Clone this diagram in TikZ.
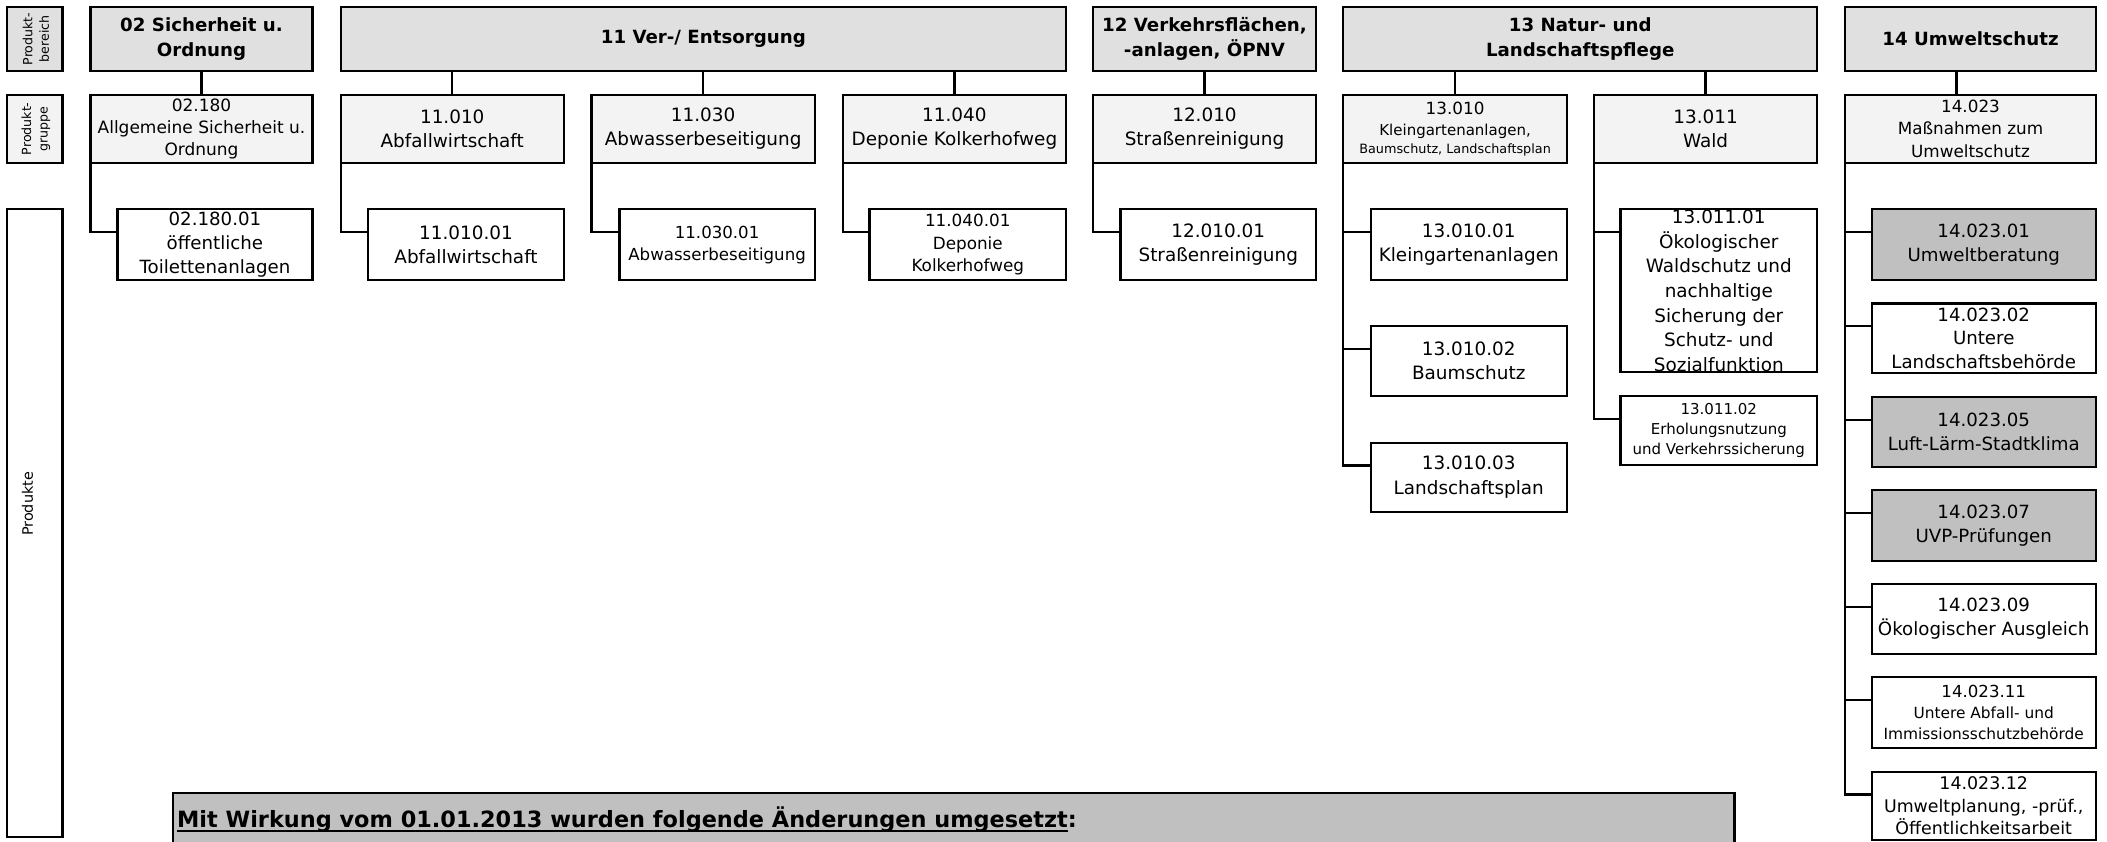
\documentclass[tikz,border=0pt]{standalone}
\usepackage{fontspec}
\setmainfont{DejaVu Sans}
\usetikzlibrary{calc}
\definecolor{hdrgray}{RGB}{224,224,224}
\definecolor{grpgray}{RGB}{243,243,243}
\definecolor{prodgray}{RGB}{192,192,192}
\newcommand{\fs}[2]{\fontsize{#1}{#2}\selectfont}
\newsavebox{\ulbox}
\newcommand{\myul}[1]{\sbox\ulbox{#1}\rlap{\rule[-2.1pt]{\wd\ulbox}{1pt}}\usebox\ulbox}
% style, name, x1, y1, x2, y2, text
\newcommand{\bx}[7]{\node[#1, minimum width={(#5-#3)*0.6719pt}, minimum height={(#6-#4)*0.6719pt}] (#2) at ({(#3+#5)/2},{(#4+#6)/2}) {#7};}
\newcommand{\lnk}[2]{\draw[conn] (#1.south west) |- ($(#2.north west)+(0,17)$);}
\begin{document}
\begin{tikzpicture}[x=0.6719pt,y=-0.6719pt,
  boxbase/.style={draw, line width=1.1pt, inner sep=0pt, outer sep=0pt, align=center},
  hdr/.style={boxbase, fill=hdrgray, font=\bfseries\fs{9.1}{12.5}},
  grp/.style={boxbase, fill=grpgray, font=\fs{9.2}{12.2}},
  prd/.style={boxbase, fill=white, font=\fs{9.2}{12.2}},
  prdg/.style={prd, fill=prodgray},
  lbl/.style={boxbase},
  lbltext/.style={rotate=90, inner sep=0pt, align=center},
  conn/.style={line width=1.1pt}]
\useasboundingbox (0,0) rectangle (1568,626);

% left labels
\bx{lbl, fill=hdrgray}{lb1}{5}{5.4}{46.5}{52.6}{}
\node[lbltext, font=\fs{6.3}{8.2}] (lb1t) at ($(lb1.center)+(1,0)$) {Produkt-\\bereich};
\bx{lbl, fill=grpgray}{lb2}{5}{70.5}{46.5}{121.3}{}
\node[lbltext, font=\fs{6.3}{8.2}] (lb2t) at ($(lb2.center)+(1,0)$) {Produkt-\\gruppe};
\bx{lbl, fill=white}{lb3}{5}{155.8}{46.5}{622.6}{}
\node[lbltext, font=\fs{7.2}{8}] (lb3t) at (20.5,375) {Produkte};

% headers
\bx{hdr}{h02}{67.4}{5.4}{232.5}{52.6}{02 Sicherheit u.\\Ordnung}
\bx{hdr}{h11}{253.5}{5.4}{793.3}{52.6}{11 Ver-/ Entsorgung}
\bx{hdr}{h12}{813.3}{5.4}{979.4}{52.6}{12 Verkehrsflächen,\\-anlagen, ÖPNV}
\bx{hdr}{h13}{999.7}{5.4}{1352.2}{52.6}{13 Natur- und\\Landschaftspflege}
\bx{hdr}{h14}{1373.3}{5.4}{1559.5}{52.6}{14 Umweltschutz}

% groups
\bx{grp, font=\fs{8.5}{11.2}}{g02}{67.4}{70.5}{232.5}{121.3}{02.180\\Allgemeine Sicherheit u.\\Ordnung}
\bx{grp}{g11a}{253.5}{70.5}{419.6}{121.3}{11.010\\Abfallwirtschaft}
\bx{grp}{g11b}{440.2}{70.5}{606.3}{121.3}{11.030\\Abwasserbeseitigung}
\bx{grp}{g11c}{627.2}{70.5}{793.3}{121.3}{11.040\\Deponie Kolkerhofweg}
\bx{grp}{g12}{813.3}{70.5}{979.4}{121.3}{12.010\\Straßenreinigung}
\bx{grp, font=\fs{7.5}{10.8}}{g13a}{999.7}{70.5}{1166}{121.3}{{\fs{8.4}{10.8}13.010}\\Kleingartenanlagen,\\[-2.1pt]{\fs{6.4}{8.7}Baumschutz, Landschaftsplan}}
\bx{grp}{g13b}{1186.3}{70.5}{1352.2}{121.3}{13.011\\Wald}
\bx{grp, font=\fs{8.4}{11.4}}{g14}{1373.3}{70.5}{1559.5}{121.3}{14.023\\Maßnahmen zum\\Umweltschutz}

% products
\bx{prd, font=\fs{9.1}{12}}{p02}{87.4}{155.8}{232.5}{208.4}{02.180.01\\öffentliche\\Toilettenanlagen}
\bx{prd}{p11a}{274}{155.8}{419.6}{208.4}{11.010.01\\Abfallwirtschaft}
\bx{prd, font=\fs{8.3}{11}}{p11b}{461}{155.8}{606.3}{208.4}{11.030.01\\Abwasserbeseitigung}
\bx{prd, font=\fs{8.4}{11.2}}{p11c}{647.1}{155.8}{793.3}{208.4}{11.040.01\\Deponie\\Kolkerhofweg}
\bx{prd}{p12}{833.8}{155.8}{979.4}{208.4}{12.010.01\\Straßenreinigung}
\bx{prd}{p13a1}{1020}{155.8}{1166}{208.4}{13.010.01\\Kleingartenanlagen}
\bx{prd}{p13a2}{1020}{242.6}{1166}{294.4}{13.010.02\\Baumschutz}
\bx{prd}{p13a3}{1020}{329.4}{1166}{380.8}{13.010.03\\Landschaftsplan}
\bx{prd, font=\fs{9.2}{12.3}}{p13b1}{1206}{155.8}{1352.2}{277}{13.011.01\\Ökologischer\\Waldschutz und\\nachhaltige\\Sicherung der\\Schutz- und\\Sozialfunktion}
\draw[line width=1.1pt] (p13b1.north west) rectangle (p13b1.south east);
\bx{prd, font=\fs{7.5}{10}}{p13b2}{1206}{294.7}{1352.2}{346}{13.011.02\\Erholungsnutzung\\und Verkehrssicherung}
\bx{prdg, font=\fs{9.1}{12}}{p14a}{1393}{155.8}{1559.5}{208.4}{14.023.01\\Umweltberatung}
\bx{prd, font=\fs{9.1}{11.7}}{p14b}{1393}{225.8}{1559.5}{277.6}{14.023.02\\Untere\\Landschaftsbehörde}
\bx{prdg, font=\fs{9.1}{12}}{p14c}{1393}{295.5}{1559.5}{347.4}{14.023.05\\Luft-Lärm-Stadtklima}
\bx{prdg, font=\fs{9.1}{12}}{p14d}{1393}{364.6}{1559.5}{417.5}{14.023.07\\UVP-Prüfungen}
\bx{prd, font=\fs{9.1}{12}}{p14e}{1393}{434.6}{1559.5}{486.7}{14.023.09\\Ökologischer Ausgleich}
\bx{prd, font=\fs{7.7}{10.5}}{p14f}{1393}{503.8}{1559.5}{556.5}{{\fs{8.3}{10.5}14.023.11}\\Untere Abfall- und\\Immissionsschutzbehörde}
\bx{prd, font=\fs{8.7}{11.3}}{p14g}{1393}{574.3}{1559.5}{625}{14.023.12\\Umweltplanung, -prüf.,\\Öffentlichkeitsarbeit}

% header -> group connectors
\draw[conn] (h02.south) -- (g02.north);
\draw[conn] (g11a.north) -- (g11a.north |- h11.south);
\draw[conn] (g11b.north) -- (g11b.north |- h11.south);
\draw[conn] (g11c.north) -- (g11c.north |- h11.south);
\draw[conn] (h12.south) -- (g12.north);
\draw[conn] (g13a.north) -- (g13a.north |- h13.south);
\draw[conn] (g13b.north) -- (g13b.north |- h13.south);
\coordinate (c14) at ($(g14.north west)+(82.7,0)$);
\draw[conn] (c14) -- (c14 |- h14.south);

% group -> product connectors
\lnk{g02}{p02}
\lnk{g11a}{p11a}
\lnk{g11b}{p11b}
\lnk{g11c}{p11c}
\lnk{g12}{p12}
\lnk{g13a}{p13a1}
\lnk{g13a}{p13a2}
\lnk{g13a}{p13a3}
\lnk{g13b}{p13b1}
\lnk{g13b}{p13b2}
\lnk{g14}{p14a}
\lnk{g14}{p14b}
\lnk{g14}{p14c}
\lnk{g14}{p14d}
\lnk{g14}{p14e}
\lnk{g14}{p14f}
\lnk{g14}{p14g}

% banner
\fill[prodgray] (129,590.4) rectangle (1290.7,627);
\draw[conn] (129,627) -- (129,590.4) -- (1290.7,590.4) -- (1290.7,627);
\node[anchor=base west, inner sep=0pt, font=\bfseries\fs{11.2}{13}] (note) at (131.5,616) {\myul{Mit Wirkung vom 01.01.2013 wurden folgende Änderungen umgesetzt}:};
\end{tikzpicture}
\end{document}
